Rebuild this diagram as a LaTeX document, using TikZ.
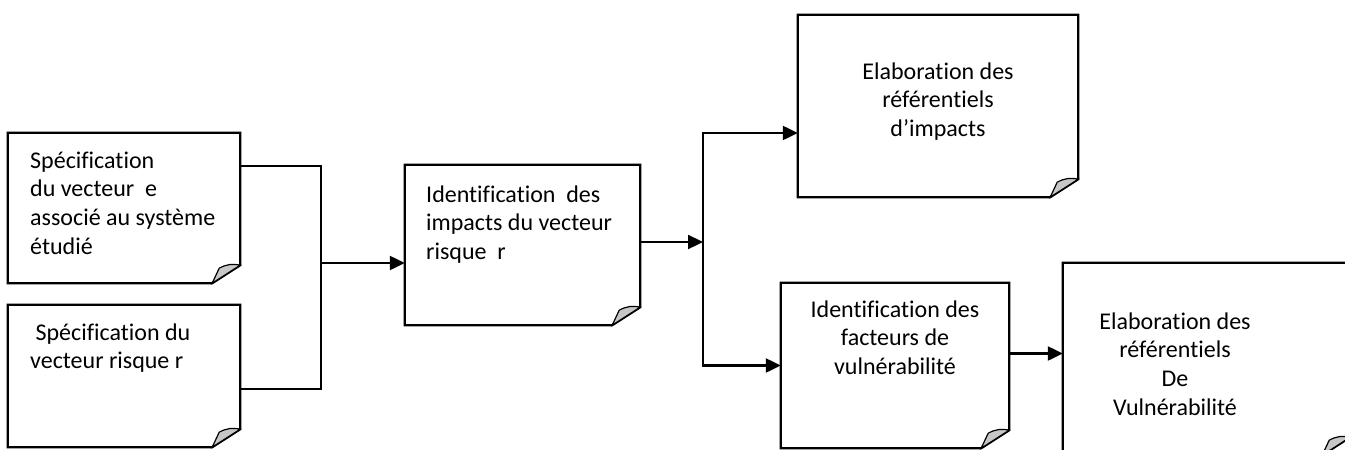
\documentclass[tikz,border=0pt]{standalone}
\usepackage{fontspec}
\setmainfont[Ligatures=NoCommon]{Carlito}
\usetikzlibrary{arrows.meta}
\tikzset{
boxline/.style={line width=2.3pt},
curl/.style={line width=1.2pt,fill=black!22},
flow/.style={line width=2.3pt,-{Triangle[length=15pt,width=14pt]}},
lefttxt/.style={anchor=base west,inner sep=0pt},
midtxt/.style={anchor=base,inner sep=0pt},
notebox/.style={inner sep=0pt},
}
\newcommand{\lefttext}[2]{\parbox[t]{#1}{\raggedright\fontsize{24}{28.8}\selectfont #2}}
\newcommand{\midtext}[2]{\parbox[t]{#1}{\centering\fontsize{24}{28.8}\selectfont #2}}
\begin{document}
\begin{tikzpicture}[x=1pt,y=-1pt]
\useasboundingbox (0,0) rectangle (1345,450);
\clip (0,0) rectangle (1345,450);
% boxes
\node[notebox,minimum width=232pt,minimum height=150pt] (spece) at (124,208) {};
\node[notebox,minimum width=232pt,minimum height=142pt] (specr) at (124,376) {};
\node[notebox,minimum width=235pt,minimum height=160pt] (impact) at (522.5,245) {};
\node[notebox,minimum width=280pt,minimum height=182pt] (refimp) at (938,106) {};
\node[notebox,minimum width=228pt,minimum height=165pt] (facteur) at (895,365.5) {};
\node[notebox,minimum width=287pt,minimum height=192pt] (refvul) at (1206.5,359) {};
\foreach \n in {spece,specr,impact,refimp,facteur,refvul}{
\draw[boxline] (\n.north west)--(\n.north east)--([yshift=18pt]\n.south east)--([xshift=-28pt]\n.south east)--(\n.south west)--cycle;
\draw[curl] ([xshift=-28pt]\n.south east)--([xshift=-21pt,yshift=15pt]\n.south east) to[bend left=20] ([yshift=18pt]\n.south east)--cycle;
}
% texts
\node[lefttxt] (spece-t) at (30,168) {\lefttext{215pt}{Spécification\\du vecteur~ e\\associé au système\\étudié}};
\node[lefttxt] (specr-t) at (30,340) {\lefttext{215pt}{~Spécification du\\vecteur risque r}};
\node[lefttxt] (impact-t) at (426,202) {\lefttext{215pt}{Identification~ des\\impacts du vecteur\\risque~ r}};
\node[midtxt] (refimp-t) at (938,79) {\midtext{260pt}{Elaboration des\\référentiels\\d’impacts}};
\node[midtxt] (facteur-t) at (895,317) {\midtext{225pt}{Identification des\\facteurs de\\vulnérabilité}};
\node[midtxt] (refvul-t) at (1175,329) {\midtext{260pt}{Elaboration des\\référentiels\\De\\Vulnérabilité}};
% connectors
\coordinate (jl) at (321,263);
\coordinate (jr) at (703,242);
\coordinate (fv) at ([yshift=12pt]facteur.east);
\draw[boxline] ([yshift=-33pt]spece.north east) -| (jl) |- ([yshift=-84pt]specr.north east);
\draw[flow] (jl) -- (jl -| impact.west);
\draw[flow] (impact.east |- jr) -- (jr);
\draw[flow] (jr) |- ([yshift=-27pt]refimp.west);
\draw[flow] (jr) |- (facteur.west);
\draw[flow] (fv) -- (fv -| refvul.west);
\end{tikzpicture}
\end{document}
